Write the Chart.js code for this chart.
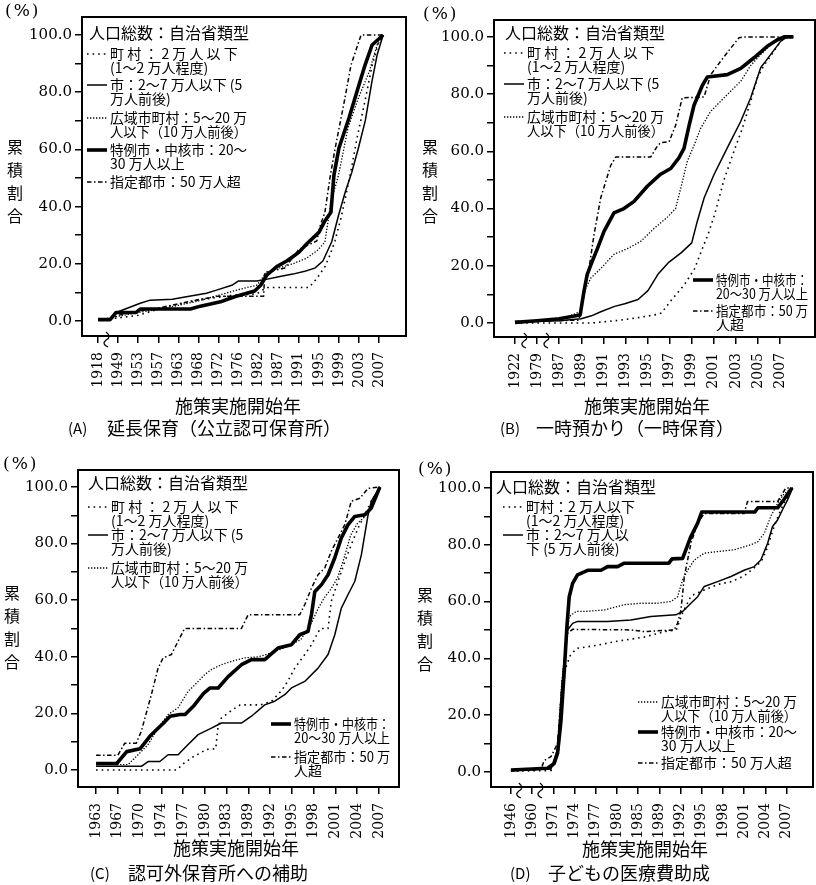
<!DOCTYPE html>
<html>
<head>
<meta charset="utf-8">
<script src="https://cdn.jsdelivr.net/npm/chart.js@4.4.1/dist/chart.umd.min.js"></script>
<style>
html, body { margin: 0; padding: 0; background: #fff; }
#wrap { position: relative; width: 816px; height: 885px; }
canvas { position: absolute; }
</style>
</head>
<body>
<div id="wrap">
  <canvas id="cA" width="408" height="442" style="left:0;top:0"></canvas>
  <canvas id="cB" width="408" height="442" style="left:408px;top:0"></canvas>
  <canvas id="cC" width="408" height="442" style="left:0;top:443px"></canvas>
  <canvas id="cD" width="408" height="442" style="left:408px;top:443px"></canvas>
</div>
<script>
// Municipality groups (population class)
const groupNames = ['町村', '市', '広域市町村', '特例市・中核市', '指定都市'];

// Tick labels (policy start year) for each panel; positions on the x axis are tick indices
const yearsA = ['1918','1949','1953','1957','1963','1968','1972','1976','1982','1987','1991','1995','1999','2003','2007'];
const yearsB = ['1922','1979','1987','1989','1991','1993','1995','1997','1999','2001','2003','2005','2007'];
const yearsC = ['1963','1967','1970','1974','1977','1980','1983','1989','1992','1995','1998','2001','2004','2007'];
const yearsD = ['1946','1960','1971','1974','1977','1980','1985','1989','1992','1995','1998','2001','2004','2007'];

const yTickValues = [0, 10, 20, 30, 40, 50, 60, 70, 80, 90, 100];

// Cumulative share (%) as [tick index, value]
// (A) 延長保育
const townA  = [[0,0.3],[0.9,1],[2,2],[3.4,5],[5,7.3],[6.7,9],[7.9,9.5],[8.4,11.7],[10.5,11.7],[10.9,14.9],[11.3,19],[11.55,23],[11.8,28],[12.1,36],[12.35,44],[12.64,54],[12.9,64],[13.3,77],[13.64,89],[13.97,97.5],[14.2,100]];
const cityA  = [[0,0.5],[0.6,0.5],[0.9,3],[2.1,6.2],[2.6,7.3],[3.7,7.6],[4.4,8.5],[5.4,9.7],[5.9,10.8],[6.7,12.6],[7,14],[7.9,14],[8.2,14.3],[9,15.5],[9.7,16.4],[10.3,17.4],[10.8,18.5],[11.2,21],[11.64,27.7],[11.98,37],[12.31,45],[12.64,52],[12.97,60.5],[13.31,70],[13.64,83.6],[13.9,93],[14.2,100]];
const wideA  = [[0,0.3],[0.9,1.5],[2,3],[3,4],[4,5.5],[5,7],[6,9],[7,11],[7.9,12.5],[8.4,17],[9,18.5],[9.7,20],[10.4,22],[10.95,24.8],[11.3,27.6],[11.6,41.6],[11.98,51],[12.45,67.5],[12.97,78],[13.5,87],[13.9,96.5],[14.2,100]];
const coreA  = [[0,0.5],[0.6,0.5],[0.9,3],[1.9,3],[2.1,4.2],[4.6,4.2],[5.1,5.2],[6.1,6.7],[6.8,8.5],[7.8,10.5],[8.1,12.5],[8.4,16],[8.9,19],[9.4,21],[9.7,22.5],[10,24],[10.4,27],[10.7,29],[11,31],[11.3,35],[11.6,38],[11.75,51],[12.0,60.5],[12.5,71],[12.95,81.5],[13.3,89.5],[13.65,96.5],[14.2,100]];
const desigA = [[0,0.5],[0.6,0.5],[1,2],[2,3.5],[3,4.5],[4,6],[5,7.5],[6,8.7],[8.25,8.7],[8.3,17],[9.3,18.5],[10,25],[10.9,28],[11.05,33],[11.3,38],[11.55,50],[11.8,60],[12.3,78],[12.6,89.5],[13.1,100],[14.2,100]];

// (B) 一時預かり
const townB  = [[0,0],[3.5,0],[4.78,1],[5.69,2],[6.44,3],[6.63,3.5],[7.08,8],[7.68,13.5],[8.13,19],[8.43,25],[8.74,31],[9.04,38],[9.46,50],[9.91,60],[10.29,68],[10.67,77.5],[10.97,85.7],[11.27,90],[11.72,95],[12.03,98.5],[12.33,100]];
const cityB  = [[0,0.3],[2,0.8],[3,1.5],[3.46,2.5],[3.91,4],[4.51,5.8],[4.97,6.7],[5.57,8.2],[6.02,11.3],[6.47,17],[6.93,21],[7.53,24.6],[8.0,28],[8.25,35.5],[8.56,43.7],[9.01,51.9],[9.61,61.2],[10.22,70.5],[10.67,78.7],[11.12,89.2],[11.57,93.8],[12.03,98.5],[12.33,100],[12.6,100]];
const wideB  = [[0,0.5],[2,1],[2.97,4],[3.2,12],[3.43,15.7],[3.88,19],[4.48,24],[5.09,26],[5.69,28.5],[6.29,33],[6.9,37],[7.27,40],[7.5,47],[7.8,56.5],[8.1,62],[8.4,68],[8.86,74],[9.31,77.5],[9.76,81],[10.22,84.5],[10.67,90],[11.12,93.8],[11.57,97.3],[12.03,99.7],[12.6,100]];
const coreB  = [[0,0.2],[1,0.8],[2,1.5],[2.95,2.8],[3.12,11],[3.27,17],[3.5,21.6],[3.73,26],[4.03,32],[4.48,38.5],[4.93,40],[5.39,42.5],[5.99,47.8],[6.59,52],[7.05,54],[7.42,57.7],[7.65,61],[7.88,69],[8.1,76],[8.48,83],[8.71,86],[9.61,86.8],[10.22,89],[10.82,92.7],[11.42,96.7],[11.88,99],[12.18,100],[12.6,100]];
const desigB = [[0,0.5],[2.9,1],[3.05,7.6],[3.35,19],[3.58,31],[3.88,43.7],[4.33,55],[4.56,58],[6.14,58],[6.44,61.8],[6.59,63],[6.97,63.3],[7.27,69],[7.57,78.7],[8.56,79],[8.86,86.8],[9.31,91.5],[9.76,96],[10.14,99.7],[10.37,100],[12.33,100]];

// (C) 認可外保育所への補助
const townC  = [[0,0],[3.7,0],[4.02,2.3],[4.47,4.7],[5.09,7.3],[5.5,7.5],[5.6,15],[5.76,18.4],[6.31,21.5],[6.62,23],[7.54,23],[8.06,24.3],[8.52,28],[8.82,31.5],[9.13,36],[9.59,40.8],[9.9,44.3],[10.3,50],[10.66,50],[10.81,59.6],[11.12,66.7],[11.43,73.7],[11.73,79.6],[12.04,85.5],[12.35,90.2],[12.65,95],[13.04,100]];
const cityC  = [[0,1.3],[2.08,1.3],[2.39,3],[2.93,3],[3.31,5.4],[3.77,5.4],[4.23,9],[4.69,12.5],[5.3,14.8],[5.76,16.6],[6.68,16.6],[7.14,19],[7.75,23],[8.21,24.3],[8.67,26.6],[8.98,29],[9.59,31.3],[10.2,36],[10.66,40.8],[10.97,47.8],[11.27,57.2],[11.58,62],[11.89,66.7],[12.19,76],[12.5,90.2],[12.65,95],[13.04,100]];
const wideC  = [[0,1.9],[1.47,1.9],[1.93,5.4],[2.39,9],[2.85,14.8],[3.31,19.6],[3.77,22],[4.23,27.8],[4.53,30],[4.99,33.7],[5.3,35.5],[5.76,37.2],[6.22,38.4],[6.83,39.6],[7.44,40],[7.7,40.5],[8.6,43],[9.4,46],[9.9,52],[10.2,57],[10.5,61],[10.8,64],[11.1,68],[11.4,75],[11.7,83],[12.0,87],[12.35,89.5],[12.65,93.8],[13.04,100]];
const coreC  = [[0,2.3],[0.95,2.3],[1.41,6.5],[2.02,7.5],[2.48,12],[3.09,16.5],[3.4,19],[3.86,19.6],[4.09,19.6],[4.47,22.5],[4.93,27],[5.24,29],[5.61,29],[6.07,33],[6.68,37.2],[7.14,39],[7.75,39],[8.36,43.1],[8.98,44.3],[9.36,47.8],[9.74,49],[9.9,55],[10.05,63],[10.36,65.5],[10.66,69],[10.97,75],[11.27,82],[11.58,86.7],[11.89,89.6],[12.35,90.2],[12.65,92.6],[13.04,100]];
const desigC = [[0,5.2],[1,5.2],[1.32,9.5],[1.85,9.5],[2.08,13.7],[2.54,26.6],[2.85,36],[3.08,39.6],[3.46,40.8],[3.77,45.5],[4.07,50],[6.68,50],[6.99,54.9],[9.36,54.9],[9.59,58.4],[9.9,64.3],[10.2,69],[10.51,71.4],[10.81,77.3],[11.43,86.7],[11.73,95],[12.12,96],[12.5,99.5],[13.04,100]];

// (D) 子どもの医療費助成
const townD  = [[0,0.3],[1.9,0.5],[2.25,8],[2.45,30],[2.6,37],[2.8,41],[3.1,43.5],[4.0,44.5],[5.0,46],[6.3,47.5],[7.3,49.5],[7.8,50],[8.1,56],[8.5,62],[9.1,64],[9.75,66],[10.4,67],[11.0,69],[11.5,72],[11.8,74],[12.1,79],[12.35,85],[12.6,90],[12.9,95],[13.29,100]];
const cityD  = [[0,0.7],[1.89,1],[2.2,8],[2.4,30],[2.67,50],[2.91,52.3],[3.14,53],[4.56,53],[5.66,53.5],[6.6,54.7],[7.78,55.3],[8.1,56.5],[8.49,59.4],[8.81,61.7],[9.12,65.3],[9.75,67],[10.38,68.8],[11.0,71],[11.48,72.3],[11.79,74.6],[12.11,80.5],[12.34,86.4],[12.58,88.7],[12.81,92.3],[13.05,95.8],[13.29,100]];
const wideD  = [[0,0.5],[1.89,1],[2.2,8],[2.4,32],[2.75,54.7],[3.07,56.5],[3.46,56.5],[4.4,57],[5.35,58.9],[6.13,59.4],[6.92,59.4],[7.55,60],[7.86,61.7],[8.1,67.6],[8.33,71],[8.65,74.6],[9.12,77],[9.75,77.6],[10.53,78.2],[11.32,80],[11.64,81],[11.95,84],[12.26,90],[12.58,94.6],[12.89,98],[13.29,100]];
const coreD  = [[0,0.7],[1.73,1.3],[2.04,3],[2.2,6.6],[2.36,18],[2.52,36],[2.64,51],[2.75,61.7],[2.91,66.4],[3.14,69.4],[3.62,71],[4.25,71],[4.56,72.3],[5.03,72.3],[5.35,73.5],[7.45,73.5],[7.6,75],[8.1,75.2],[8.49,82.9],[8.81,87.6],[9.0,91.5],[11.5,91.5],[11.65,93],[12.58,93],[12.89,96],[13.25,100]];
const desigD = [[0,0.3],[1.42,1],[1.57,4],[1.89,5.4],[2.2,10],[2.4,30],[2.67,48.8],[2.91,50.2],[5.66,50],[6.29,49.4],[7.7,50],[7.86,52.3],[8.02,57],[8.18,68.8],[8.49,80.5],[8.81,87.6],[9.12,91],[11.0,91],[11.16,95.2],[12.58,95.2],[12.97,100],[13.29,100]];

// Line styles per group
const lineStyles = [
  { borderWidth: 1.6, borderDash: [1.6, 4] },
  { borderWidth: 1.5, borderDash: [] },
  { borderWidth: 1.3, borderDash: [1.3, 1.7] },
  { borderWidth: 3.6, borderDash: [] },
  { borderWidth: 1.5, borderDash: [4.5, 2.5, 1.5, 2.5] }
];

const yTitle = '累積割合';
const xTitle = '施策実施開始年';
const legendTitle = '人口総数：自治省類型';

// Draws frame, axis breaks, titles, caption and the legend blocks
const decorPlugin = {
  id: 'decor',
  afterDraw(chart, _args, o) {
    const ctx = chart.ctx;
    const ca = chart.chartArea;
    const xs = chart.scales.x;
    ctx.save();
    ctx.setLineDash([]);
    ctx.strokeStyle = '#000';
    ctx.lineWidth = 2;
    ctx.strokeRect(ca.left, ca.top, ca.right - ca.left, ca.bottom - ca.top);

    ctx.lineWidth = 1.2;
    (o.breaks || []).forEach(b => {
      const x = xs.getPixelForValue(b);
      const y = ca.bottom;
      ctx.beginPath();
      ctx.moveTo(x - 1, y - 4);
      ctx.quadraticCurveTo(x + 5, y + 1, x - 1, y + 4);
      ctx.quadraticCurveTo(x - 6, y + 8, x + 1, y + 11);
      ctx.stroke();
    });

    ctx.fillStyle = '#000';
    ctx.textBaseline = 'middle';
    ctx.textAlign = 'left';
    ctx.font = '17px "DejaVu Serif"';
    ctx.letterSpacing = '2px';
    ctx.fillText('(%)', o.pct[0], o.pct[1]);
    ctx.letterSpacing = '0px';

    ctx.font = '16px "Noto Sans CJK JP"';
    ctx.textAlign = 'center';
    [...yTitle].forEach((ch, i) => ctx.fillText(ch, o.yTitle[0], o.yTitle[1] + i * 23));

    ctx.font = '18px "Noto Sans CJK JP"';
    ctx.fillText(xTitle, o.xTitle[0], o.xTitle[1]);

    ctx.textAlign = 'left';
    ctx.font = '15px "Noto Sans CJK JP"';
    ctx.fillText(o.caption.tag, o.caption.x, o.caption.y);
    ctx.font = '18px "Noto Sans CJK JP"';
    ctx.fillText(o.caption.text, o.caption.tx, o.caption.y);

    ctx.font = '16px "Noto Sans CJK JP"';
    ctx.fillText(legendTitle, o.legendTitle[0], o.legendTitle[1]);

    o.legend.forEach(item => {
      const ds = chart.data.datasets[item.ds];
      ctx.setLineDash(ds.borderDash);
      ctx.lineWidth = ds.borderWidth;
      ctx.beginPath();
      ctx.moveTo(item.x, item.y);
      ctx.lineTo(item.x + 20, item.y);
      ctx.stroke();
      ctx.setLineDash([]);
      ctx.font = '14px "Noto Sans CJK JP"';
      item.lines.forEach((t, i) => ctx.fillText(t, item.x + 23, item.y + i * 14, item.maxW));
    });
    ctx.restore();
  }
};

const panels = [
  {
    id: 'cA', years: yearsA, series: [townA, cityA, wideA, coreA, desigA],
    xMin: -0.8, xMax: 15.34, yMin: -5.24, yMax: 106.3,
    area: { left: 82, top: 17, right: 406, bottom: 336 },
    decor: {
      breaks: [0.45],
      pct: [5, 12], yTitle: [15, 147], xTitle: [238, 406],
      caption: { tag: '(A)', text: '延長保育（公立認可保育所）', x: 68, tx: 107, y: 428 },
      legendTitle: [89, 33],
      legend: [
        { ds: 0, x: 87, y: 54, maxW: 137, lines: ['町 村 ： 2 万 人 以 下', '(1～2 万人程度)'] },
        { ds: 1, x: 87, y: 85, maxW: 137, lines: ['市：2～7 万人以下 (5', '万人前後)'] },
        { ds: 2, x: 87, y: 118, maxW: 137, lines: ['広域市町村：5～20 万', '人以下（10 万人前後）'] },
        { ds: 3, x: 87, y: 150, maxW: 137, lines: ['特例市・中核市：20～', '30 万人以上'] },
        { ds: 4, x: 87, y: 182, maxW: 137, lines: ['指定都市：50 万人超'] }
      ]
    }
  },
  {
    id: 'cB', years: yearsB, series: [townB, cityB, wideB, coreB, desigB],
    xMin: -0.95, xMax: 13.58, yMin: -4.9, yMax: 105.9,
    area: { left: 86, top: 20, right: 407, bottom: 337 },
    decor: {
      breaks: [0.45, 1.45],
      pct: [15, 15], yTitle: [22, 147], xTitle: [239, 406],
      caption: { tag: '(B)', text: '一時預かり（一時保育）', x: 92, tx: 128, y: 428 },
      legendTitle: [97, 33],
      legend: [
        { ds: 0, x: 96, y: 53, maxW: 137, lines: ['町 村 ： 2 万 人 以 下', '(1～2 万人程度)'] },
        { ds: 1, x: 96, y: 84, maxW: 137, lines: ['市：2～7 万人以下 (5', '万人前後)'] },
        { ds: 2, x: 96, y: 117, maxW: 137, lines: ['広域市町村：5～20 万', '人以下（10 万人前後）'] },
        { ds: 3, x: 285, y: 280, maxW: 92, lines: ['特例市・中核市：', '20～30 万人以上'] },
        { ds: 4, x: 285, y: 311, maxW: 92, lines: ['指定都市：50 万', '人超'] }
      ]
    }
  },
  {
    id: 'cC', years: yearsC, series: [townC, cityC, wideC, coreC, desigC],
    xMin: -0.83, xMax: 13.92, yMin: -6.0, yMax: 106.0,
    area: { left: 78, top: 27, right: 399, bottom: 344 },
    decor: {
      breaks: [],
      pct: [3, 22], yTitle: [12, 150], xTitle: [236, 405],
      caption: { tag: '(C)', text: '認可外保育所への補助', x: 90, tx: 128, y: 430 },
      legendTitle: [88, 40],
      legend: [
        { ds: 0, x: 88, y: 64, maxW: 137, lines: ['町 村 ： 2 万 人 以 下', '(1～2 万人程度)'] },
        { ds: 1, x: 88, y: 92, maxW: 137, lines: ['市：2～7 万人以下 (5', '万人前後)'] },
        { ds: 2, x: 88, y: 125, maxW: 137, lines: ['広域市町村：5～20 万', '人以下（10 万人前後）'] },
        { ds: 3, x: 271, y: 281, maxW: 96, lines: ['特例市・中核市：', '20～30 万人以上'] },
        { ds: 4, x: 271, y: 314, maxW: 96, lines: ['指定都市：50 万', '人超'] }
      ]
    }
  },
  {
    id: 'cD', years: yearsD, series: [townD, cityD, wideD, coreD, desigD],
    xMin: -0.94, xMax: 14.25, yMin: -5.3, yMax: 105.6,
    area: { left: 83, top: 29, right: 405, bottom: 344 },
    decor: {
      breaks: [0.42, 1.42],
      pct: [10, 27], yTitle: [17, 152], xTitle: [237, 406],
      caption: { tag: '(D)', text: '子どもの医療費助成', x: 102, tx: 140, y: 430 },
      legendTitle: [88, 44],
      legend: [
        { ds: 0, x: 95, y: 64, maxW: 120, lines: ['町村：2 万人以下', '(1～2 万人程度)'] },
        { ds: 1, x: 95, y: 92, maxW: 120, lines: ['市：2～7 万人以', '下 (5 万人前後)'] },
        { ds: 2, x: 230, y: 259, maxW: 136, lines: ['広域市町村：5～20 万', '人以下（10 万人前後）'] },
        { ds: 3, x: 230, y: 289, maxW: 136, lines: ['特例市・中核市：20～', '30 万人以上'] },
        { ds: 4, x: 230, y: 320, maxW: 136, lines: ['指定都市：50 万人超'] }
      ]
    }
  }
];

function makeChart(p) {
  const W = 408, H = 442;
  return new Chart(document.getElementById(p.id), {
    type: 'line',
    data: {
      datasets: p.series.map((s, i) => Object.assign({
        label: groupNames[i],
        data: s.map(([x, y]) => ({ x, y })),
        borderColor: '#000',
        backgroundColor: '#000',
        pointRadius: 0,
        tension: 0,
        fill: false,
        borderJoinStyle: 'round'
      }, lineStyles[i]))
    },
    options: {
      responsive: false,
      animation: false,
      devicePixelRatio: 1,
      layout: { padding: { left: 0, top: p.area.top, right: W - p.area.right, bottom: 0 } },
      plugins: { legend: { display: false }, tooltip: { enabled: false }, decor: p.decor },
      scales: {
        x: {
          type: 'linear', min: p.xMin, max: p.xMax,
          afterFit: s => { s.height = H - p.area.bottom; },
          afterBuildTicks: s => { s.ticks = p.years.map((_, i) => ({ value: i })); },
          ticks: {
            autoSkip: false, minRotation: 90, maxRotation: 90, padding: 9, color: '#000',
            font: { family: 'DejaVu Serif', size: 14 },
            callback: v => p.years[v]
          },
          grid: { drawOnChartArea: false, drawTicks: true, tickLength: 7, color: '#000', lineWidth: 1.5 },
          border: { display: false }
        },
        y: {
          type: 'linear', min: p.yMin, max: p.yMax,
          afterFit: s => { s.width = p.area.left; },
          afterBuildTicks: s => { s.ticks = yTickValues.map(v => ({ value: v })); },
          ticks: {
            padding: 3, color: '#000',
            font: { family: 'DejaVu Serif', size: 15 },
            callback: v => (v % 20 === 0 ? v.toFixed(1) : '')
          },
          grid: { drawOnChartArea: false, drawTicks: true, tickLength: 7, color: '#000', lineWidth: 1.5 },
          border: { display: false }
        }
      }
    },
    plugins: [decorPlugin]
  });
}

panels.forEach(makeChart);
</script>
</body>
</html>
